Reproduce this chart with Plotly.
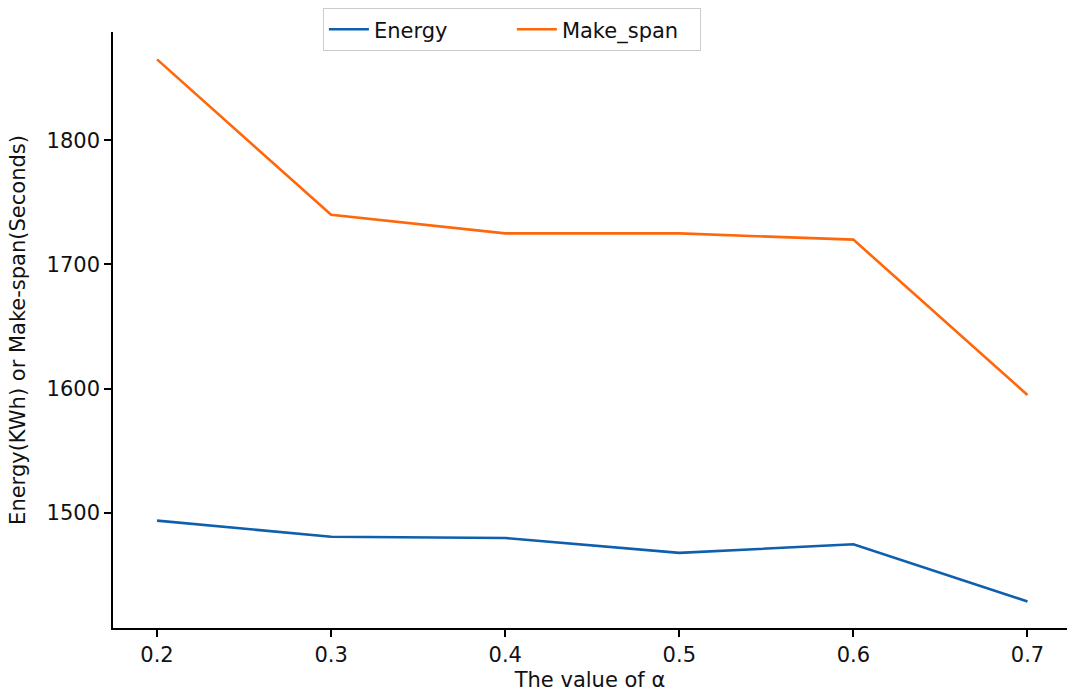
import plotly.graph_objects as go

alpha = [0.2, 0.3, 0.4, 0.5, 0.6, 0.7]
energy = [1494, 1481, 1480, 1468, 1475, 1429]
make_span = [1865, 1740, 1725, 1725, 1720, 1595]

x_ticks = [0.2, 0.3, 0.4, 0.5, 0.6, 0.7]
y_ticks = [1500, 1600, 1700, 1800]

FONT = "DejaVu Sans"
FS = 21

fig = go.Figure()
fig.add_trace(go.Scatter(x=alpha, y=energy, mode="lines", name="Energy",
                         line=dict(color="#0e5fad", width=2.6)))
fig.add_trace(go.Scatter(x=alpha, y=make_span, mode="lines", name="Make_span",
                         line=dict(color="#ff670a", width=2.6)))

fig.update_layout(
    width=1067, height=693,
    margin=dict(l=113, r=0, t=32, b=65),
    paper_bgcolor="white", plot_bgcolor="white",
    font=dict(family=FONT, size=FS, color="#111111"),
    showlegend=True,
    legend=dict(orientation="h", x=0.22, y=1.04, xanchor="left", yanchor="top",
                bordercolor="#cccccc", borderwidth=1, bgcolor="white",
                font=dict(family=FONT, size=FS), itemwidth=40,
                entrywidth=133, entrywidthmode="pixels",
                tracegroupgap=0),
    xaxis=dict(range=[0.1747, 0.7227], tickmode="array", tickvals=x_ticks,
               ticktext=[f"{v:.1f}" for v in x_ticks],
               showgrid=False, zeroline=False, showline=True,
               linecolor="black", linewidth=1.6, ticks="outside",
               ticklen=7, tickwidth=1.6, tickcolor="black",
               tickfont=dict(family=FONT, size=FS),
               title=dict(text="The value of α", standoff=6,
                          font=dict(family=FONT, size=FS))),
    yaxis=dict(range=[1407.6, 1887], tickmode="array", tickvals=y_ticks,
               showgrid=False, zeroline=False, showline=True,
               linecolor="black", linewidth=1.6, ticks="outside",
               ticklen=7, tickwidth=1.6, tickcolor="black",
               tickfont=dict(family=FONT, size=FS),
               title=dict(text="Energy(KWh) or Make-span(Seconds)", standoff=15,
                          font=dict(family=FONT, size=FS))),
)

fig.write_html("out.html")
